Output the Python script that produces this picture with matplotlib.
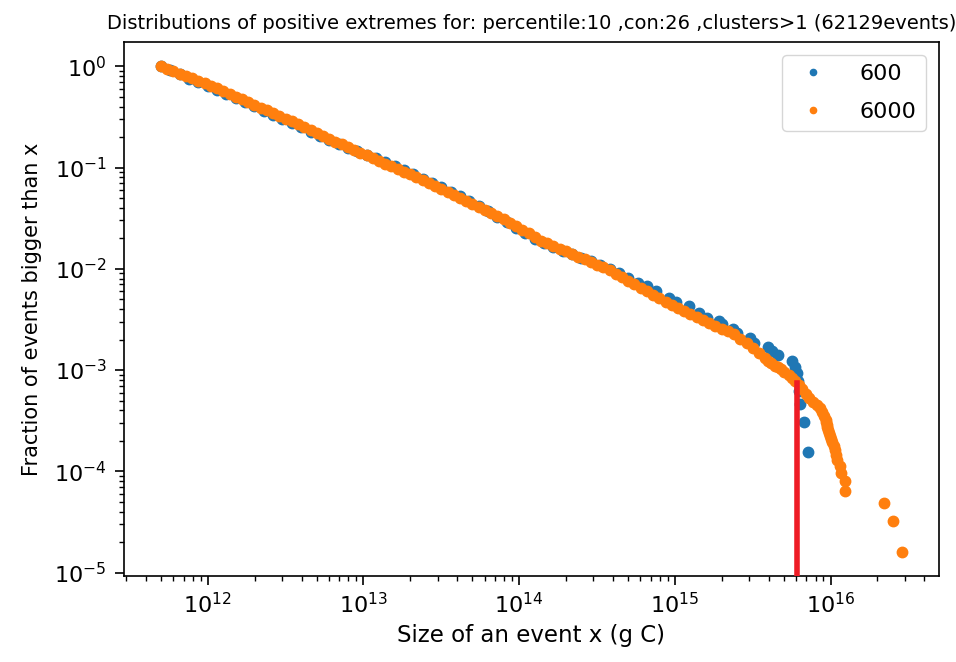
import numpy as np
import matplotlib.pyplot as plt

# values: log10 of event size (g C) and
# log10 of the fraction of events bigger than x
log_size_600 = [
    11.70, 11.76, 11.82, 11.88, 11.94, 12.00, 12.06, 12.12, 12.18, 12.24,
    12.30, 12.36, 12.42, 12.48, 12.54, 12.60, 12.66, 12.72, 12.78, 12.84,
    12.90, 12.96, 13.02, 13.08, 13.14, 13.20, 13.26, 13.32, 13.38, 13.44,
    13.50, 13.56, 13.62, 13.68, 13.74, 13.80, 13.86, 13.92, 13.98, 14.04,
    14.10, 14.16, 14.22, 14.28, 14.34, 14.40, 14.46, 14.52, 14.58, 14.64,
    14.70, 14.76, 14.82, 14.88, 14.96, 15.01, 15.09, 15.155, 15.205, 15.285,
    15.30, 15.37, 15.40, 15.48, 15.51, 15.595, 15.625, 15.66, 15.755, 15.774,
    15.787, 15.790, 15.795, 15.806, 15.832, 15.852,
]
log_frac_600 = [
    0.000, -0.036, -0.080, -0.122, -0.160, -0.196, -0.234, -0.275, -0.315, -0.356,
    -0.396, -0.437, -0.477, -0.517, -0.560, -0.603, -0.645, -0.686, -0.727, -0.766,
    -0.805, -0.841, -0.878, -0.908, -0.947, -0.986, -1.026, -1.066, -1.109, -1.153,
    -1.197, -1.242, -1.286, -1.331, -1.380, -1.432, -1.486, -1.542, -1.595, -1.648,
    -1.701, -1.750, -1.788, -1.820, -1.854, -1.890, -1.925, -1.960, -1.998, -2.045,
    -2.093, -2.140, -2.168, -2.218, -2.287, -2.327, -2.366, -2.436, -2.485, -2.515,
    -2.545, -2.594, -2.634, -2.683, -2.733, -2.768, -2.810, -2.856, -2.906, -2.965,
    -3.032, -3.111, -3.208, -3.333, -3.509, -3.810,
]

log_size_6000 = [
    11.70, 11.74, 11.78, 11.82, 11.86, 11.90, 11.94, 11.98, 12.02, 12.06,
    12.10, 12.14, 12.18, 12.22, 12.26, 12.30, 12.34, 12.38, 12.42, 12.46,
    12.50, 12.54, 12.58, 12.62, 12.66, 12.70, 12.74, 12.78, 12.82, 12.86, 12.90,
    12.94, 12.98, 13.02, 13.06, 13.10, 13.14, 13.18, 13.22, 13.26, 13.30, 13.34,
    13.38, 13.42, 13.46, 13.50, 13.54, 13.58, 13.62, 13.66, 13.70, 13.74, 13.78, 13.82, 13.86,
    13.90, 13.94, 13.98, 14.02, 14.06, 14.10, 14.14,
    14.18, 14.22, 14.26, 14.30, 14.34, 14.38, 14.42, 14.46, 14.50, 14.54,
    14.58, 14.62, 14.66, 14.70, 14.74, 14.78, 14.82, 14.86, 14.90, 14.94, 14.98,
    15.02, 15.06, 15.10, 15.14, 15.18, 15.22, 15.26, 15.30, 15.34, 15.38,
    15.42, 15.46, 15.50, 15.54, 15.58, 15.60, 15.62, 15.64, 15.66,
    15.680, 15.703, 15.735, 15.755, 15.774, 15.800, 15.819, 15.839, 15.858, 15.890,
    15.910, 15.929, 15.942, 15.955, 15.968, 15.971, 15.974, 15.977, 15.981, 15.987,
    15.994, 16.000, 16.006, 16.019, 16.026, 16.032, 16.040, 16.058, 16.065, 16.090,
    16.095, 16.342, 16.400, 16.458,
]
log_frac_6000 = [
    0.000, -0.024, -0.048, -0.072, -0.096, -0.121, -0.145, -0.169, -0.193, -0.219,
    -0.246, -0.273, -0.300, -0.327, -0.354, -0.381, -0.408, -0.435, -0.462, -0.489,
    -0.516, -0.545, -0.573, -0.602, -0.630, -0.659, -0.687, -0.715, -0.744, -0.772, -0.801,
    -0.828, -0.855, -0.881, -0.908, -0.934, -0.961, -0.987, -1.014, -1.040, -1.067, -1.094,
    -1.123, -1.152, -1.182, -1.211, -1.241, -1.271, -1.300, -1.330, -1.359, -1.389, -1.418, -1.448, -1.477,
    -1.509, -1.545, -1.580, -1.615, -1.651, -1.686, -1.721,
    -1.748, -1.775, -1.801, -1.828, -1.854, -1.881, -1.908, -1.934, -1.961, -1.987,
    -2.015, -2.050, -2.084, -2.118, -2.153, -2.187, -2.222, -2.256, -2.290, -2.325, -2.359,
    -2.390, -2.419, -2.447, -2.476, -2.505, -2.533, -2.562, -2.591, -2.619, -2.648,
    -2.691, -2.737, -2.783, -2.830, -2.881, -2.908, -2.935, -2.960, -2.972,
    -2.986, -3.015, -3.045, -3.077, -3.112, -3.150, -3.191, -3.237, -3.275, -3.316,
    -3.346, -3.378, -3.413, -3.451, -3.492, -3.515, -3.538, -3.563, -3.589, -3.617,
    -3.647, -3.679, -3.714, -3.752, -3.793, -3.839, -3.890, -3.948, -4.015, -4.094,
    -4.191, -4.316, -4.492, -4.793,
]

series_labels = ['600', '6000']

# red cut-off line
cut_log_size = 15.787
cut_log_frac = -3.129

title = ("Distributions of positive extremes for: percentile:10 ,con:26 "
         ",clusters>1 (62129events)")

fig = plt.figure(figsize=(9.56, 6.62), dpi=100)
ax = fig.add_axes([0.1297, 0.130, 0.8525, 0.8066])

ax.plot(10 ** np.array(log_size_600), 10 ** np.array(log_frac_600), '.',
        ms=15, color='C0', label=series_labels[0])
ax.plot(10 ** np.array(log_size_6000), 10 ** np.array(log_frac_6000), '.',
        ms=15, color='C1', label=series_labels[1])
ax.set_xscale('log')
ax.set_yscale('log')

# vertical line down to the bottom of the axes, without changing the limits
xlim = ax.get_xlim()
ylim = ax.get_ylim()
ax.plot([10 ** cut_log_size, 10 ** cut_log_size], [ylim[0], 10 ** cut_log_frac],
        color='#ee1c25', lw=4, zorder=3, scalex=False, scaley=False)
ax.set_xlim(xlim)
ax.set_ylim(ylim)

ax.set_title(title, fontsize=14, pad=9)
ax.set_xlabel('Size of an event x (g C)', fontsize=16.5, labelpad=5)
ax.set_ylabel('Fraction of events bigger than x', fontsize=15, labelpad=9)
ax.tick_params(which='major', labelsize=16, length=6.5, width=1.2)
ax.tick_params(axis='y', which='major', pad=6)
ax.tick_params(axis='x', which='major', pad=5)
ax.tick_params(which='minor', length=3.5, width=1.0)
for s in ax.spines.values():
    s.set_linewidth(1.2)

ax.legend(loc='upper right', fontsize=16, markerscale=0.6, labelspacing=0.8,
          handletextpad=1.1, borderaxespad=0.6)

fig.savefig('out.png', dpi=100)
